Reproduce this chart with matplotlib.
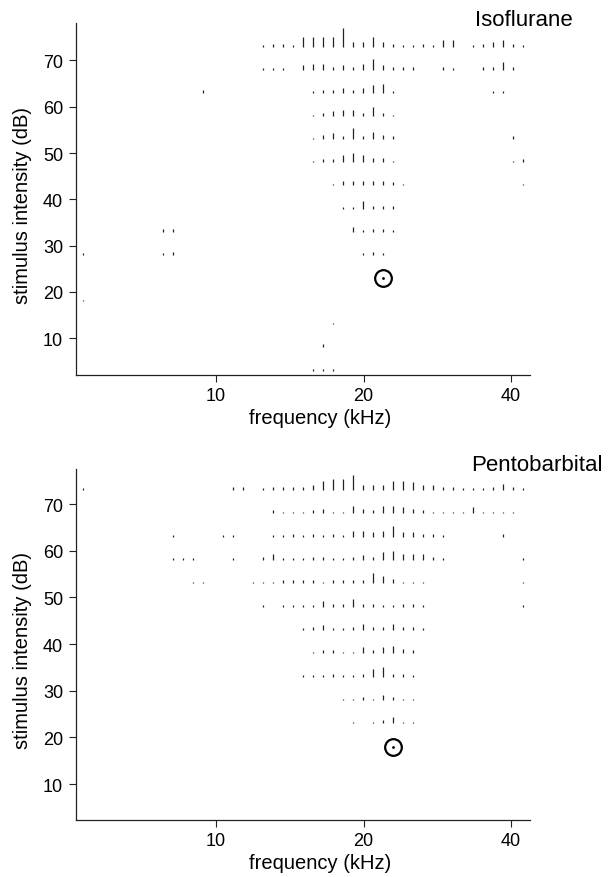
import numpy as np
import matplotlib
matplotlib.use("Agg")
import matplotlib.pyplot as plt
from matplotlib.ticker import NullLocator

plt.rcParams['font.family'] = ['Liberation Sans', 'DejaVu Sans']

# stimulus frequencies (kHz)
FREQ_KHZ = [5.36, 5.62, 5.89, 6.17, 6.47, 6.78, 7.10, 7.44, 7.80, 8.18,
            8.57, 8.99, 9.42, 9.87, 10.35, 10.85, 11.37, 11.92, 12.49, 13.09,
            13.72, 14.38, 15.07, 15.80, 16.56, 17.35, 18.19, 19.06, 19.98, 20.94,
            21.95, 23.01, 24.11, 25.27, 26.49, 27.76, 29.10, 30.50, 31.97, 33.50,
            35.12, 36.81, 38.58, 40.43, 42.38]
# k index in the picture runs -18..26, column = k + 18
LEVELS_DB = [73, 68, 63, 58, 53, 48, 43, 38, 33, 28, 23, 18, 13, 8, 3]

# spike counts per (level, frequency), only non-zero cells: {k: count}
ISO_ROWS = [
    {0: 1, 1: 2, 2: 2, 3: 1, 4: 6, 5: 6, 6: 6, 7: 6, 8: 12, 9: 3, 10: 3, 11: 6, 12: 3, 13: 2,
     14: 1, 15: 1, 16: 2, 17: 1, 18: 4, 19: 4, 21: 1, 22: 2, 23: 3, 24: 4, 25: 2, 26: 1},
    {0: 1, 1: 1, 2: 1, 4: 3, 5: 4, 6: 4, 7: 2, 8: 3, 9: 2, 10: 4, 11: 7, 12: 3, 13: 2, 14: 2,
     15: 2, 18: 2, 19: 1, 22: 2, 23: 2, 24: 5, 25: 2},
    {-6: 2, 5: 1, 6: 2, 7: 2, 8: 3, 9: 2, 10: 3, 11: 5, 12: 6, 13: 1, 23: 1, 24: 1},
    {5: 1, 6: 2, 7: 3, 8: 4, 9: 4, 10: 2, 11: 6, 12: 2, 13: 1},
    {5: 1, 6: 3, 7: 4, 8: 2, 9: 7, 10: 2, 11: 5, 12: 3, 13: 2, 25: 2},
    {5: 1, 6: 2, 7: 2, 8: 5, 9: 6, 10: 5, 11: 3, 12: 3, 13: 1, 25: 1, 26: 2},
    {7: 1, 8: 3, 9: 3, 10: 3, 11: 3, 12: 3, 13: 2, 14: 1, 26: 1},
    {8: 1, 9: 1, 10: 5, 11: 2, 12: 2, 13: 2},
    {-10: 2, -9: 2, 9: 3, 10: 1, 11: 2, 12: 2, 13: 1},
    {-18: 1, -10: 1, -9: 2, 10: 1, 11: 2, 12: 1},
    {},
    {-18: 1},
    {7: 1},
    {6: 2},
    {5: 1, 6: 1, 7: 1},
]

PENTO_ROWS = [
    {-18: 1, -3: 2, -2: 2, 0: 1, 1: 2, 2: 2, 3: 2, 4: 2, 5: 3, 6: 6, 7: 7, 8: 7, 9: 10, 10: 3,
     11: 3, 12: 3, 13: 6, 14: 6, 15: 5, 16: 3, 17: 3, 18: 2, 19: 2, 20: 1, 21: 1, 22: 1,
     23: 2, 24: 4, 25: 2, 26: 1},
    {1: 2, 2: 1, 3: 1, 4: 1, 5: 2, 6: 3, 7: 1, 8: 1, 9: 5, 10: 3, 11: 2, 12: 5, 13: 5, 14: 4,
     15: 3, 16: 2, 17: 1, 18: 1, 19: 1, 20: 1, 21: 4, 22: 1, 23: 1, 24: 1, 25: 1},
    {-9: 1, -4: 1, -3: 1, 1: 1, 2: 1, 3: 2, 4: 1, 5: 2, 6: 1, 7: 2, 8: 1, 9: 4, 10: 4, 11: 3,
     12: 4, 13: 7, 14: 3, 15: 3, 16: 2, 17: 2, 18: 1, 24: 2},
    {-9: 1, -8: 1, -7: 1, -3: 1, 0: 2, 1: 4, 2: 1, 3: 1, 4: 1, 5: 2, 6: 2, 7: 1, 8: 1, 9: 2,
     10: 3, 11: 2, 12: 5, 13: 6, 14: 4, 15: 4, 16: 4, 17: 2, 18: 1, 26: 1},
    {-7: 1, -6: 1, -1: 1, 0: 1, 1: 1, 2: 2, 3: 2, 4: 2, 5: 2, 6: 1, 7: 2, 8: 2, 9: 2, 10: 2,
     11: 7, 12: 5, 13: 3, 14: 1, 15: 1, 16: 1, 26: 1},
    {0: 1, 2: 1, 3: 1, 4: 1, 5: 1, 6: 4, 7: 2, 8: 2, 9: 5, 10: 2, 11: 2, 12: 1, 13: 1, 14: 2,
     15: 2, 16: 1, 26: 1},
    {4: 1, 5: 2, 6: 3, 7: 1, 8: 1, 9: 2, 10: 4, 11: 2, 12: 2, 13: 4, 14: 2, 15: 2, 16: 1},
    {5: 1, 6: 2, 7: 2, 8: 1, 9: 1, 10: 4, 11: 2, 12: 4, 13: 5, 14: 3, 15: 2},
    {4: 1, 5: 1, 6: 1, 7: 2, 8: 1, 9: 1, 10: 2, 11: 5, 12: 6, 13: 2, 14: 2, 15: 1},
    {8: 1, 9: 1, 10: 2, 11: 1, 12: 3, 13: 2, 14: 1, 15: 1},
    {9: 1, 11: 1, 12: 2, 13: 4, 14: 1, 15: 1},
    {}, {}, {}, {},
]

# threshold / CF markers (kHz, dB)
ISO_CF = (21.95, 23)
PENTO_CF = (23.01, 18)

TITLES = ["Isoflurane", "Pentobarbital"]

W, H = 612, 878
UNIT = 0.33   # dB of tick length per spike
INK = '#222222'

fig = plt.figure(figsize=(W / 100, H / 100), dpi=100)
ax1 = fig.add_axes([75.7 / W, 1 - 376 / H, 454.3 / W, 352 / H])
ax2 = fig.add_axes([75.7 / W, 1 - 821 / H, 454.3 / W, 351 / H])


def draw_panel(ax, rows, cf, ylim, ylab_y):
    for lev, row in zip(LEVELS_DB, rows):
        for k, c in row.items():
            f = FREQ_KHZ[k + 18]
            ax.vlines(f, lev, lev + c * UNIT, color=INK, lw=0.9)
    ax.plot(cf[0], cf[1], 'o', ms=12, mfc='none', mec='black', mew=1.6)
    ax.plot(cf[0], cf[1], '.', ms=2, color='black')

    ax.set_xscale('log')
    ax.set_xlim(5.17, 43.7)
    ax.set_ylim(*ylim)
    ax.set_xticks([10, 20, 40])
    ax.set_xticklabels(['10', '20', '40'])
    ax.xaxis.set_minor_locator(NullLocator())
    ax.set_yticks([10, 20, 30, 40, 50, 60, 70])
    for s in ['top', 'right']:
        ax.spines[s].set_visible(False)
    for s in ['left', 'bottom']:
        ax.spines[s].set_linewidth(0.9)
        ax.spines[s].set_color(INK)
    ax.tick_params(direction='out', length=5, width=0.8, color=INK,
                   labelsize=13, pad=4)
    ax.set_xlabel('frequency (kHz)', fontsize=14.5)
    ax.set_ylabel('stimulus intensity (dB)', fontsize=14.5)
    ax.xaxis.set_label_coords(0.538, -0.094)
    ax.yaxis.set_label_coords(-0.096, ylab_y)


draw_panel(ax1, ISO_ROWS, ISO_CF, (2.05, 78.1), 0.483)
draw_panel(ax2, PENTO_ROWS, PENTO_CF, (2.3, 77.5), 0.487)

fig.text(573 / W, 1 - 20 / H, TITLES[0], ha='right', va='center', fontsize=16)
fig.text(603 / W, 1 - 466 / H, TITLES[1], ha='right', va='center', fontsize=16)

fig.savefig('out.png', dpi=100)
